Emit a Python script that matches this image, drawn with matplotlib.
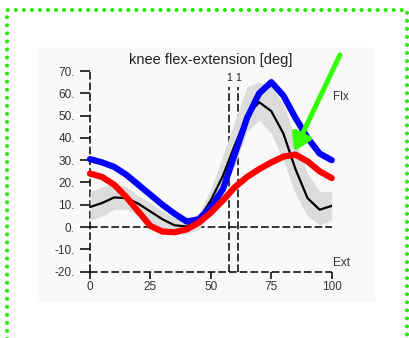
import matplotlib.pyplot as plt
from matplotlib.lines import Line2D
from matplotlib.patches import Rectangle

plt.rcParams['font.family'] = ['Liberation Sans', 'DejaVu Sans']

# gait cycle (%)
pct = [0, 5, 10, 15, 20, 25, 30, 35, 40, 45, 50, 55, 60, 65, 70, 75, 80, 85, 90, 95, 100]
blue_vals = [30.5, 29, 27, 23.5, 19, 14.5, 10, 6, 2.5, 3.5, 9, 17, 33, 49, 60, 65, 59, 49, 40, 33, 30]
red_vals = [24, 22.5, 19, 13.5, 7, 0.5, -2, -2.3, -1, 2, 6.5, 12, 18, 22.5, 26, 29, 31.6, 32.5, 29.5, 25, 22]
black_vals = [9, 10.8, 13.3, 13, 10.5, 7, 3.5, 0.8, 0.3, 3.5, 12, 23, 37, 50, 56, 52, 42, 26, 13, 7.8, 9.5]
band_hi = [16, 18, 20, 18, 14, 11, 7, 4, 3, 6, 17, 32, 48, 63, 65, 63, 55, 40, 24, 16, 16]
band_lo = [3, 5, 8, 8, 5, 2, -1, -3, -3, -1, 6, 15, 28, 43, 48, 42, 30, 15, 5, 1, 3]

toe_off = [57.4, 61.2]
yticks = [-20, -10, 0, 10, 20, 30, 40, 50, 60, 70]
xticks = [0, 25, 50, 75, 100]

W, H = 409, 338
fig = plt.figure(figsize=(W / 100, H / 100), dpi=100)
fig.patch.set_facecolor('white')

# light panel behind the plot
fig.add_artist(Rectangle((37 / W, 1 - 302 / H), (375 - 37) / W, (302 - 47) / H,
                         transform=fig.transFigure, facecolor='#f9f9f9', edgecolor='none', zorder=0))

# green dotted frame (left, top, right)
fx = [7 / W, 7 / W, 407 / W, 407 / W]
fy = [1 - 340 / H, 1 - 10 / H, 1 - 10 / H, 1 - 340 / H]
fig.add_artist(Line2D(fx, fy, transform=fig.transFigure, color='#22ee00', lw=3,
                      linestyle=(0, (0.01, 1.92)), dash_capstyle='round', solid_capstyle='round'))

ax = fig.add_axes([90 / W, 1 - 271.7 / H, (331.7 - 90) / W, (271.7 - 71) / H])
ax.set_facecolor('none')
ax.set_xlim(0, 100)
ax.set_ylim(-20, 70)
for s in ax.spines.values():
    s.set_visible(False)

dash = (0, (5, 2))
ax.plot([0, 0], [-20, 70], color='black', lw=1.1, linestyle=dash, clip_on=False)
ax.plot([0, 100], [-20, -20], color='black', lw=1.1, linestyle=dash, clip_on=False)
ax.plot([0, 100], [0, 0], color='black', lw=1.1, linestyle=dash, zorder=1)
for t in toe_off:
    ax.plot([t, t], [-20, 63], color='black', lw=1.1, linestyle=dash, zorder=1)
    ax.text(t, 64.5, '1', ha='center', va='bottom', fontsize=7.5, color='#222222')

ax.set_yticks(yticks)
ax.set_yticklabels([f'{v}.' for v in yticks])
ax.set_xticks(xticks)
ax.set_xticklabels([str(v) for v in xticks])
ax.tick_params(axis='y', direction='out', length=7, width=1.1, pad=4, labelsize=8.5, labelcolor='#333333')
ax.tick_params(axis='x', direction='out', length=5, width=1.1, pad=2, labelsize=8.5, labelcolor='#333333')

ax.fill_between(pct, band_lo, band_hi, color='#dcdcdc', lw=0, zorder=2)
ax.plot(pct, black_vals, color='black', lw=1.6, zorder=3)
ax.plot(pct, blue_vals, color='#0000ff', lw=4.5, zorder=4, solid_capstyle='round', clip_on=False)
ax.plot(pct, red_vals, color='#ff0000', lw=4.5, zorder=5, solid_capstyle='round', clip_on=False)

ax.set_title('knee flex-extension [deg]', fontsize=10.5, color='#222222', pad=5)
ax.text(100.5, 58.5, 'Flx', fontsize=8.5, color='#333333', va='center', ha='left')
ax.text(100.5, -16, 'Ext', fontsize=8.5, color='#333333', va='center', ha='left')

ax.annotate('', xy=(84.5, 34), xytext=(103.4, 77.2), annotation_clip=False,
            arrowprops=dict(arrowstyle='-|>,head_length=0.8,head_width=0.5', color='#33ff00',
                            lw=3.6, mutation_scale=12, shrinkA=0, shrinkB=0), zorder=6)

fig.savefig('out.png', dpi=100)
